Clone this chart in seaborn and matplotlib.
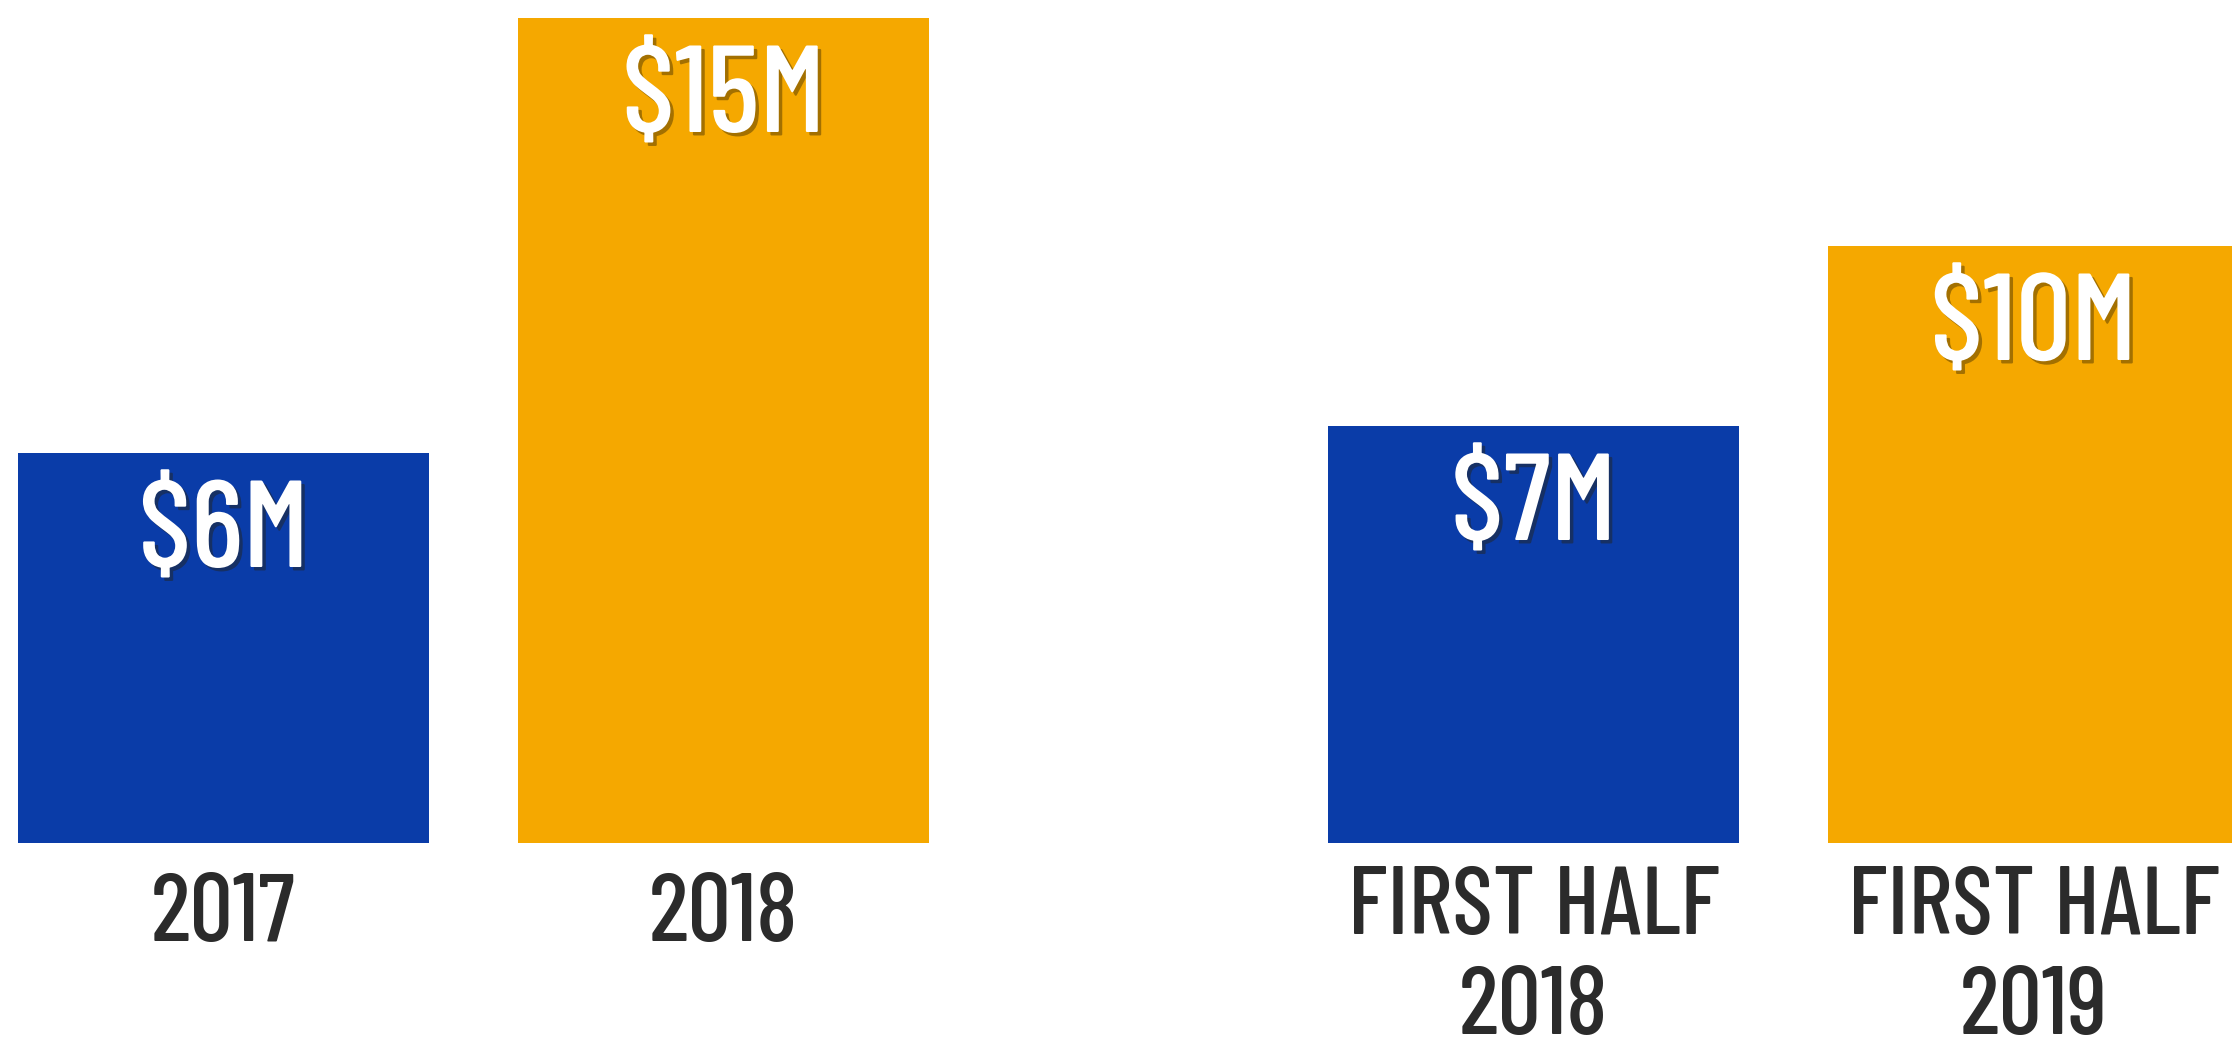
import matplotlib
matplotlib.use("Agg")
import matplotlib.pyplot as plt
import matplotlib.patheffects as pe
import seaborn as sns
import pandas as pd

# ---- data ----
categories = ["2017", "2018", "FIRST HALF\n2018", "FIRST HALF\n2019"]
positions = [0.0, 1.0, 2.62, 3.62]
values = [6.5, 13.75, 6.95, 9.95]          # bar heights
value_labels = ["$6M", "$15M", "$7M", "$10M"]
colors = ["#0a3ca8", "#f5a800", "#0a3ca8", "#f5a800"]

sns.set_theme(style="white")
plt.rcParams["font.family"] = ["Barlow Condensed", "DejaVu Sans"]

df = pd.DataFrame({"pos": positions, "value": values, "cat": categories})

fig = plt.figure(figsize=(22.32, 10.37), dpi=100)
ax = fig.add_axes([0, 0, 1, 1])
sns.barplot(data=df, x="pos", y="value", hue="cat", palette=colors,
            native_scale=True, width=0.822, legend=False, ax=ax,
            edgecolor="none", saturation=1)

ax.set_xlim(-0.447, 4.017)
ax.set_ylim(-3.233, 14.05)
ax.axis("off")

shadow = [pe.withSimplePatchShadow(offset=(2.5, -2.5), shadow_rgbFace="#2a1e00", alpha=0.4)]
for p, v, lab in zip(positions, values, value_labels):
    ax.text(p, v - 1.9, lab, ha="center", va="baseline", color="white",
            fontsize=89, fontweight=500, path_effects=shadow)

for p, c in zip(positions, categories):
    n = c.count("\n")
    ax.text(p, -1.633 - 1.55 * n, c, ha="center", va="baseline", color="#2b2b2b",
            fontsize=69, fontweight=500, linespacing=1.2)

fig.savefig("out.png", dpi=100, facecolor="white")
